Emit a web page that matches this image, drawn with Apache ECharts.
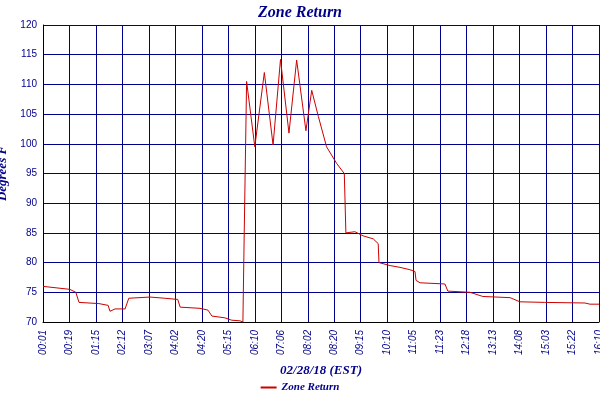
<!DOCTYPE html>
<html><head><meta charset="utf-8">
<script src="https://cdn.jsdelivr.net/npm/echarts@6/dist/echarts.min.js"></script>
<style>html,body{margin:0;background:#fff}#c{width:600px;height:400px}</style>
</head><body><div id="c"></div>
<script>
const tickLabels = ["00:01","00:19","01:15","02:12","03:07","04:02","04:20","05:15","06:10","07:06","08:02","08:20","09:15","10:10","11:05","11:23","12:18","13:13","14:08","15:03","15:22","16:10"];
const xPos = [0,1.01,1.24,1.36,2.11,2.46,2.53,2.72,3.10,3.24,4.04,4.60,5.09,5.18,5.93,6.23,6.38,6.87,7.13,7.44,7.55,7.60,7.69,8.00,8.36,8.69,8.97,9.29,9.58,9.93,10.15,10.40,10.71,11.09,11.38,11.44,11.78,12.09,12.47,12.66,12.69,13.11,13.48,13.86,14.05,14.09,14.24,15.18,15.29,16.13,16.61,17.64,18.01,18.95,20.47,20.66,21];
const zoneReturn = [76,75.5,75.0,73.3,73.1,72.8,71.8,72.2,72.2,74.0,74.2,74.0,73.8,72.5,72.3,72.0,71.0,70.7,70.3,70.2,70.0,85,110.5,99.5,112,99.8,114.2,101.8,114.1,102.2,109,104.6,99.5,96.7,95,85,85.2,84.5,84,83.2,80,79.5,79.2,78.8,78.5,77,76.6,76.4,75.2,75,74.3,74.1,73.4,73.3,73.2,73,73];
const navy = '#00008b';
const chart = echarts.init(document.getElementById('c'));
chart.setOption({
  backgroundColor:'#fff', animation:false,
  title:{text:'Zone Return', left:'center', top:0, textStyle:{fontFamily:'Liberation Serif', fontStyle:'italic', fontWeight:'bold', fontSize:16, color:navy}},
  legend:{bottom:2, left:'center', itemWidth:16, itemHeight:2, icon:'rect', textStyle:{fontFamily:'Liberation Serif', fontStyle:'italic', fontWeight:'bold', fontSize:11, color:navy}},
  grid:{left:43, right:1, top:25, bottom:78, containLabel:false, outerBoundsMode:'none'},
  xAxis:{type:'value', min:0, max:21, interval:1, name:'02/28/18 (EST)', nameLocation:'middle', nameGap:42,
    nameTextStyle:{fontFamily:'Liberation Serif', fontStyle:'italic', fontWeight:'bold', fontSize:13, color:navy},
    axisLine:{show:true, lineStyle:{color:'#000'}}, axisTick:{show:false},
    axisLabel:{rotate:90, fontSize:10, color:navy, fontFamily:'Liberation Sans', fontStyle:'italic', formatter:v=>tickLabels[Math.round(v)]||''},
    splitLine:{show:true, lineStyle:{color:navy, width:1}}},
  yAxis:{type:'value', min:70, max:120, interval:5, name:'Degrees F', nameLocation:'middle', nameGap:30,
    nameTextStyle:{fontFamily:'Liberation Serif', fontStyle:'italic', fontWeight:'bold', fontSize:13, color:navy},
    axisLine:{show:true, lineStyle:{color:'#000'}}, axisTick:{show:false},
    axisLabel:{fontSize:10, color:navy, fontFamily:'Liberation Sans', margin:6},
    splitLine:{show:true, lineStyle:{color:navy, width:1}}},
  series:[{name:'Zone Return', type:'line', symbol:'none', color:'#cc0000', lineStyle:{width:1, color:'#cc0000'},
    data:xPos.map((x,i)=>[x, zoneReturn[i]])}]
});
</script></body></html>
